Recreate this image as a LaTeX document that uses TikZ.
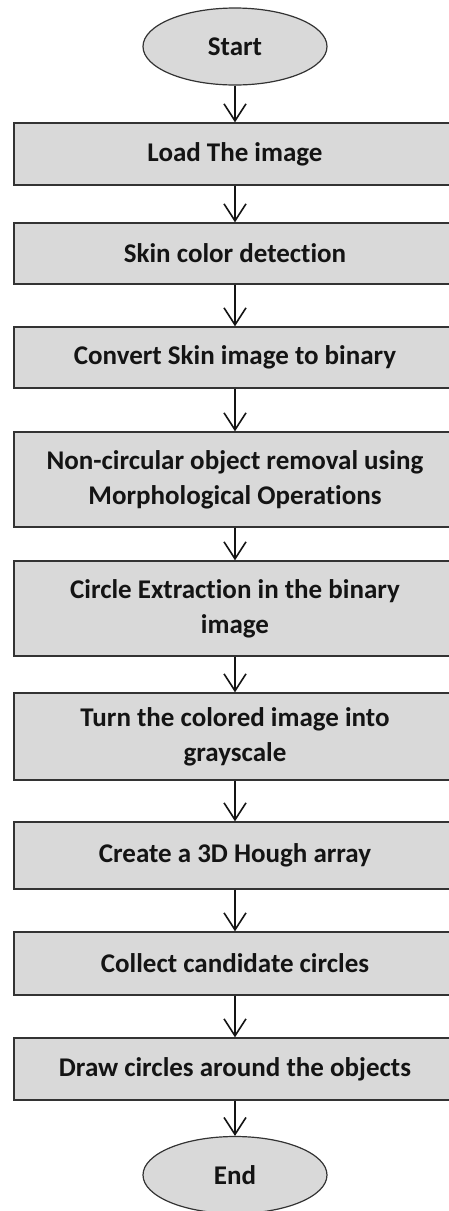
\documentclass[tikz,border=0pt]{standalone}
\usepackage{fontspec}
\setmainfont{Carlito}[Ligatures=NoCommon]
\usetikzlibrary{shapes.geometric,arrows.meta}
\definecolor{boxfill}{HTML}{D9D9D9}
\definecolor{boxline}{HTML}{333333}
\definecolor{inkcol}{HTML}{141414}
\begin{document}
\begin{tikzpicture}[x=1pt,y=-1pt,
  stepbox/.style={rectangle, draw=boxline, fill=boxfill, line width=1.4pt,
    minimum width=442pt, inner sep=0pt, align=center, text=inkcol,
    font=\fontsize{27}{35}\selectfont\bfseries},
  term/.style={ellipse, draw=boxline, fill=boxfill, line width=1.2pt,
    minimum width=184pt, minimum height=77pt, inner sep=0pt, text=inkcol,
    font=\fontsize{27}{35}\selectfont\bfseries},
  flow/.style={draw=inkcol, line width=1.6pt,
    -{Straight Barb[length=17pt,width=22pt]}}]
  % page frame
  \useasboundingbox (0,0) rectangle (449,1211);
  \clip (0,0) rectangle (449,1211);
  \fill[white] (0,0) rectangle (449,1211);

  % terminals and process steps
  \node[term] (start) at (235,46.5) {Start};
  \node[stepbox, minimum height=62pt] (load)    at (235,154)   {Load The image};
  \node[stepbox, minimum height=61pt] (skin)    at (235,253.5) {Skin color detection};
  \node[stepbox, minimum height=61pt] (binary)  at (235,357.5) {Convert Skin image to binary};
  \node[stepbox, minimum height=95pt] (morph)   at (235,479.5) {Non-circular object removal using\\Morphological Operations};
  \node[stepbox, minimum height=95pt] (extract) at (235,608.5) {Circle Extraction in the binary\\image};
  \node[stepbox, minimum height=87pt] (gray)    at (235,736.5) {Turn the colored image into\\grayscale};
  \node[stepbox, minimum height=67pt] (hough)   at (235,855.5) {Create a 3D Hough array};
  \node[stepbox, minimum height=63pt] (collect) at (235,963.5) {Collect candidate circles};
  \node[stepbox, minimum height=62pt] (circles) at (235,1069)  {Draw circles around the objects};
  \node[term] (end) at (235,1175) {End};

  % connectors
  \draw[flow] (start.south) -- (load.north);
  \draw[flow] (load.south) -- (skin.north);
  \draw[flow] (skin.south) -- (binary.north);
  \draw[flow] (binary.south) -- (morph.north);
  \draw[flow] (morph.south) -- (extract.north);
  \draw[flow] (extract.south) -- (gray.north);
  \draw[flow] (gray.south) -- (hough.north);
  \draw[flow] (hough.south) -- (collect.north);
  \draw[flow] (collect.south) -- (circles.north);
  \draw[flow] (circles.south) -- (end.north);
\end{tikzpicture}
\end{document}
